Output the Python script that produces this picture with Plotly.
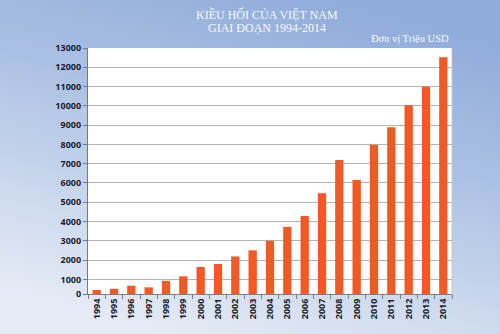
import plotly.graph_objects as go

years = [str(y) for y in range(1994, 2015)]
remittance = [445, 510, 670, 585, 925, 1155, 1640, 1795, 2190, 2505, 3000,
              3720, 4285, 5460, 7190, 6150, 7985, 8890, 10030, 10995, 12520]

y_tick_vals = [240] + list(range(1000, 13001, 1000))
y_tick_text = ["0"] + [str(v) for v in range(1000, 13001, 1000)]

W, H = 500, 334
ML, MR, MT, MB = 88, 48, 48, 40
PW, PH = W - ML - MR, H - MT - MB

grad_svg = (
    "data:image/svg+xml;charset=utf-8,"
    "<svg xmlns='http://www.w3.org/2000/svg' width='500' height='334' preserveAspectRatio='none'>"
    "<defs><linearGradient id='g' x1='0.7' y1='0' x2='0.3' y2='1'>"
    "<stop offset='0' stop-color='%2390acda'/>"
    "<stop offset='0.35' stop-color='%23a9bfe3'/>"
    "<stop offset='1' stop-color='%23e6ecf6'/>"
    "</linearGradient></defs>"
    "<rect width='500' height='334' fill='url(%23g)'/></svg>"
)

fig = go.Figure()
fig.add_trace(go.Bar(
    x=years, y=remittance,
    marker=dict(color="#f15a24", line=dict(width=0)),
    width=0.48,
))

title_font = dict(family="Liberation Serif", size=12, color="#f7f9fd")

fig.update_layout(
    width=W, height=H,
    margin=dict(l=ML, r=MR, t=MT, b=MB),
    paper_bgcolor="#c4d3ec",
    plot_bgcolor="white",
    showlegend=False,
    images=[dict(
        source=grad_svg, xref="paper", yref="paper",
        x=-ML / PW, y=1 + MT / PH, sizex=W / PW, sizey=H / PH,
        xanchor="left", yanchor="top", sizing="stretch", layer="below",
    )],
    shapes=[dict(
        type="rect", xref="paper", yref="paper", x0=0, x1=1, y0=0, y1=1,
        fillcolor="white", line=dict(width=0), layer="below",
    ), dict(
        type="line", xref="paper", yref="paper", x0=1, x1=1, y0=0, y1=1,
        line=dict(color="#c8c8c8", width=1), layer="above",
    )],
    annotations=[
        dict(text="KIỀU HỐI CỦA VIỆT NAM", xref="paper", yref="paper",
             x=(267 - ML) / PW, y=1 + (MT - 14) / PH, xanchor="center", yanchor="middle",
             showarrow=False, font=title_font),
        dict(text="GIAI ĐOẠN 1994-2014", xref="paper", yref="paper",
             x=(267 - ML) / PW, y=1 + (MT - 28) / PH, xanchor="center", yanchor="middle",
             showarrow=False, font=title_font),
        dict(text="Đơn vị Triệu USD", xref="paper", yref="paper",
             x=(451 - ML) / PW, y=1 + (MT - 39) / PH, xanchor="right", yanchor="middle",
             showarrow=False, font=dict(family="Liberation Serif", size=10.5, color="#f7f9fd")),
    ],
    bargap=0.5,
)

fig.update_xaxes(
    type="category",
    tickangle=-90,
    tickfont=dict(family="Open Sans", size=9, color="#1c1c2a", weight="bold"),
    showline=True, linecolor="#7f7f7f", linewidth=1,
    ticks="outside", ticklen=4, tickcolor="#7f7f7f", tickson="boundaries",
    showgrid=False,
)
fig.update_yaxes(
    range=[240, 13000],
    tickvals=y_tick_vals, ticktext=y_tick_text,
    tickfont=dict(family="Open Sans", size=9, color="#1c1c2a", weight="bold"),
    showline=True, linecolor="#6f7a88", linewidth=1.2,
    ticks="outside", ticklen=4, tickcolor="#6f7a88",
    showgrid=True, gridcolor="#b4b4b4", gridwidth=1.4,
    zeroline=False,
)

fig.write_html("out.html")
